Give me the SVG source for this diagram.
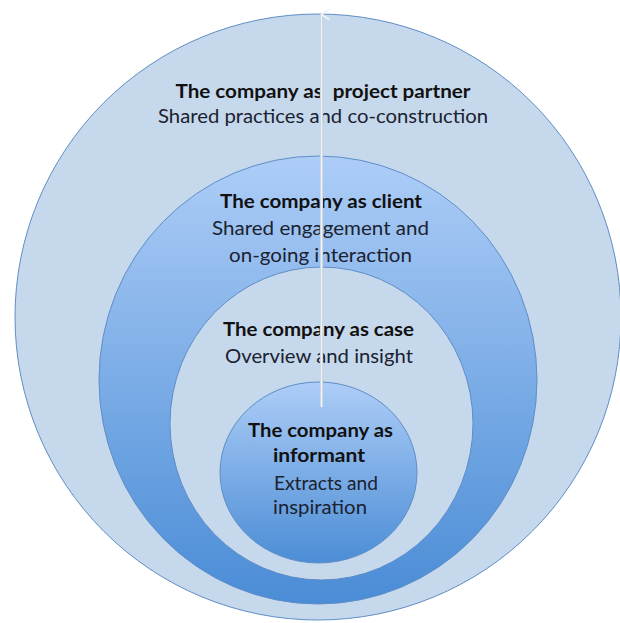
<svg xmlns="http://www.w3.org/2000/svg" width="620" height="623" viewBox="0 0 620 623">
<defs>
<linearGradient id="gClient" x1="0" y1="0" x2="0" y2="1">
<stop offset="0" stop-color="#adcdf7"/>
<stop offset="1" stop-color="#4a8cd6"/>
</linearGradient>
<linearGradient id="gInf" x1="0" y1="0" x2="0" y2="1">
<stop offset="0" stop-color="#adcdf7"/>
<stop offset="1" stop-color="#4c8dd6"/>
</linearGradient>
<marker id="arrowOpen" markerWidth="12" markerHeight="12" refX="6" refY="1.5" orient="auto-start-reverse" markerUnits="userSpaceOnUse" viewBox="0 0 12 12">
<path d="M0.8,9.5 L6,1.5 L11.2,9.5" fill="none" stroke="#eef3f8" stroke-width="1.8"/>
</marker>
</defs>
<style>
.ring{stroke:#5f8ec6;stroke-width:1}
.light{fill:#c6d8eb}
.h{font-family:Lato,"Liberation Sans",sans-serif;font-weight:bold;font-size:18.5px;fill:#111;text-anchor:middle}
.s{font-family:Lato,"Liberation Sans",sans-serif;font-size:18.5px;fill:#1b2230;text-anchor:middle}
</style>
<rect width="620" height="623" fill="#ffffff"/>
<g id="partner">
<ellipse class="ring light" cx="318" cy="317" rx="303" ry="303"/>
<text class="h" x="323" y="98" textLength="295" lengthAdjust="spacingAndGlyphs" xml:space="preserve">The company as  project partner</text>
<text class="s" x="323" y="123" textLength="330" lengthAdjust="spacingAndGlyphs">Shared practices and co-construction</text>
</g>
<g id="client">
<ellipse class="ring" fill="url(#gClient)" cx="318" cy="380" rx="219" ry="224"/>
<text class="h" x="321" y="208" textLength="202" lengthAdjust="spacingAndGlyphs">The company as client</text>
<text class="s" x="320.5" y="235" textLength="217" lengthAdjust="spacingAndGlyphs">Shared engagement and</text>
<text class="s" x="320.5" y="262" textLength="183" lengthAdjust="spacingAndGlyphs">on-going interaction</text>
</g>
<g id="case">
<ellipse class="ring light" cx="321.5" cy="423.5" rx="151.5" ry="156.5"/>
<text class="h" x="318.5" y="336" textLength="191" lengthAdjust="spacingAndGlyphs">The company as case</text>
<text class="s" x="319" y="363" textLength="188" lengthAdjust="spacingAndGlyphs">Overview and insight</text>
</g>
<g id="informant">
<ellipse class="ring" fill="url(#gInf)" cx="318.5" cy="472.5" rx="98.5" ry="90.5"/>
<text class="h" x="320.5" y="437" textLength="145" lengthAdjust="spacingAndGlyphs">The company as</text>
<text class="h" x="319" y="462" textLength="92" lengthAdjust="spacingAndGlyphs">informant</text>
<text class="s" x="326" y="490" textLength="104" lengthAdjust="spacingAndGlyphs">Extracts and</text>
<text class="s" x="320" y="514" textLength="94" lengthAdjust="spacingAndGlyphs">inspiration</text>
</g>
<g id="connectors">
<line x1="321.5" y1="407" x2="321.5" y2="15" stroke="#b9c6d4" stroke-width="3.2"/>
<line x1="321.5" y1="407" x2="321.5" y2="14.5" stroke="#eef3f8" stroke-width="1.8" marker-end="url(#arrowOpen)"/>
</g>
</svg>
